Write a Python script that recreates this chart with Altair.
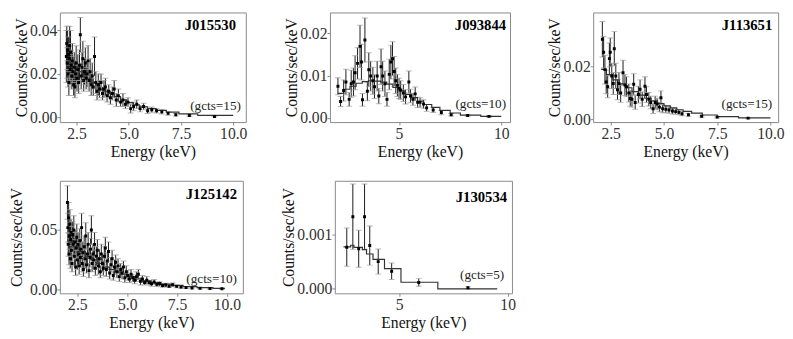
import altair as alt
import pandas as pd

FONT = "Liberation Serif"

# ---------------- Panel 1: J015530 ----------------
p1_energy = [2.01, 2.03, 2.05, 2.07, 2.09, 2.11, 2.13, 2.15, 2.17, 2.19, 2.21, 2.24, 2.27, 2.30, 2.33, 2.36,
             2.39, 2.42, 2.45, 2.48, 2.52, 2.56, 2.60, 2.64, 2.68, 2.72, 2.76, 2.80, 2.84, 2.88, 2.92, 2.96,
             3.00, 3.05, 3.10, 3.15, 3.20, 3.25, 3.30, 3.36, 3.42, 3.48, 3.54, 3.60, 3.67, 3.74, 3.81, 3.88,
             3.96, 4.04, 4.12, 4.21, 4.30, 4.40, 4.50, 4.61, 4.72, 4.84, 4.96, 5.09, 5.23, 5.38, 5.54, 5.71,
             5.90, 6.10, 6.33, 6.58, 6.88, 7.25, 7.90, 9.10]
p1_rate = [0.028, 0.034, 0.025, 0.031, 0.020, 0.029, 0.016, 0.027, 0.033, 0.022, 0.030, 0.024, 0.019, 0.026,
           0.021, 0.015, 0.023, 0.014, 0.020, 0.025, 0.018, 0.022, 0.016, 0.024, 0.038, 0.019, 0.023, 0.027,
           0.017, 0.021, 0.025, 0.018, 0.020, 0.026, 0.017, 0.021, 0.015, 0.019, 0.014, 0.028, 0.016, 0.012,
           0.015, 0.013, 0.016, 0.011, 0.013, 0.014, 0.010, 0.012, 0.009, 0.011, 0.013, 0.008, 0.010, 0.007,
           0.008, 0.006, 0.007, 0.004, 0.005, 0.006, 0.004, 0.005, 0.003, 0.0035, 0.003, 0.0025, 0.0018,
           0.0012, 0.0008, 0.0004]
p1_err = [0.012, 0.008, 0.007, 0.009, 0.006, 0.008, 0.006, 0.007, 0.009, 0.007, 0.010, 0.007, 0.006, 0.008,
          0.007, 0.005, 0.007, 0.005, 0.006, 0.008, 0.006, 0.007, 0.005, 0.007, 0.008, 0.006, 0.007, 0.008,
          0.005, 0.006, 0.007, 0.005, 0.006, 0.007, 0.005, 0.006, 0.005, 0.006, 0.004, 0.009, 0.005, 0.004,
          0.005, 0.004, 0.004, 0.003, 0.004, 0.004, 0.003, 0.003, 0.003, 0.003, 0.004, 0.003, 0.003, 0.002,
          0.003, 0.002, 0.002, 0.002, 0.002, 0.002, 0.0015, 0.0015, 0.0012, 0.0012, 0.001, 0.001, 0.0008,
          0.0006, 0.0004, 0.0002]
p1_model_e = [2.0, 2.2, 2.4, 2.6, 2.8, 3.0, 3.2, 3.4, 3.6, 3.8, 4.0, 4.3, 4.6, 4.9, 5.2, 5.5, 5.9, 6.3, 6.8, 7.4, 8.3, 10.0]
p1_model_r = [0.027, 0.025, 0.023, 0.021, 0.019, 0.018, 0.016, 0.015, 0.013, 0.012, 0.011, 0.0095, 0.008, 0.0068,
              0.0058, 0.0048, 0.004, 0.0032, 0.0024, 0.0016, 0.0009, 0.0009]

# ---------------- Panel 2: J093844 ----------------
p2_energy = [2.01, 2.14, 2.29, 2.40, 2.56, 2.66, 2.77, 2.85, 2.97, 3.09, 3.16, 3.21, 3.33, 3.45, 3.52,
             3.61, 3.72, 3.80, 3.93, 4.01, 4.12, 4.20, 4.31, 4.41, 4.52, 4.60, 4.68, 4.76, 4.84, 4.92,
             5.00, 5.08, 5.21, 5.32, 5.48, 5.56, 5.68, 5.79, 5.91, 6.03, 6.20, 6.35, 6.67, 7.07, 7.55,
             8.36, 9.40]
p2_rate = [0.0075, 0.0039, 0.0065, 0.0085, 0.0044, 0.0081, 0.0085, 0.0107, 0.0129, 0.0169, 0.0132, 0.0043, 0.0184,
           0.0063, 0.0114, 0.0099, 0.0088, 0.0074, 0.0099, 0.0052, 0.0121, 0.0099, 0.0081, 0.0044, 0.0103,
           0.0132, 0.0140, 0.0110, 0.0088, 0.0077, 0.0070, 0.0066, 0.0059, 0.0050, 0.0085, 0.0052, 0.0044,
           0.0057, 0.0037, 0.0037, 0.0033, 0.0024, 0.0019, 0.0013, 0.0008, 0.0006, 0.0004]
p2_err = [0.0020, 0.0012, 0.0025, 0.0030, 0.0016, 0.0032, 0.0033, 0.0040, 0.0037, 0.0050, 0.0042, 0.0015, 0.0052,
          0.0022, 0.0040, 0.0035, 0.0032, 0.0028, 0.0035, 0.0018, 0.0042, 0.0035, 0.0030, 0.0016, 0.0036,
          0.0040, 0.0040, 0.0035, 0.0030, 0.0026, 0.0024, 0.0022, 0.0020, 0.0017, 0.0026, 0.0016, 0.0014,
          0.0016, 0.0012, 0.0011, 0.0010, 0.0008, 0.0006, 0.0005, 0.0003, 0.0002, 0.0002]
p2_model_e = [2.0, 2.3, 2.6, 2.9, 3.2, 3.5, 3.8, 4.1, 4.4, 4.7, 5.0, 5.3, 5.6, 5.9, 6.2, 6.6, 7.0, 7.5, 8.0, 9.0, 10.0]
p2_model_r = [0.0058, 0.0068, 0.0075, 0.0082, 0.0086, 0.0088, 0.0087, 0.0085, 0.0080, 0.0072, 0.0064, 0.0056,
              0.0048, 0.0040, 0.0032, 0.0025, 0.0018, 0.0012, 0.0007, 0.0004, 0.0004]

# ---------------- Panel 3: J113651 ----------------
p3_energy = [2.11, 2.17, 2.23, 2.29, 2.36, 2.44, 2.48, 2.55, 2.62, 2.67, 2.74, 2.82, 2.89, 2.97, 3.08,
             3.17, 3.24, 3.35, 3.42, 3.50, 3.58, 3.65, 3.80, 3.88, 3.98, 4.11, 4.18, 4.29, 4.38, 4.49,
             4.59, 4.68, 4.79, 4.86, 4.94, 5.09, 5.24, 5.40, 5.55, 5.70, 5.85, 6.15, 6.77, 7.50, 8.95]
p3_rate = [0.0305, 0.0255, 0.0189, 0.0142, 0.0124, 0.0231, 0.0255, 0.0165, 0.0136, 0.0269, 0.0165, 0.0112, 0.0136,
           0.0100, 0.0177, 0.0130, 0.0124, 0.0100, 0.0079, 0.0076, 0.0133, 0.0064, 0.0094, 0.0114, 0.0076,
           0.0126, 0.0094, 0.0076, 0.0064, 0.0040, 0.0064, 0.0058, 0.0046, 0.0082, 0.0040, 0.0038, 0.0035,
           0.0031, 0.0029, 0.0026, 0.0021, 0.0017, 0.0011, 0.0008, 0.0004]
p3_err = [0.0068, 0.0060, 0.0055, 0.0045, 0.0042, 0.0060, 0.0055, 0.0048, 0.0042, 0.0065, 0.0048, 0.0038, 0.0042,
          0.0035, 0.0048, 0.0040, 0.0038, 0.0034, 0.0030, 0.0030, 0.0040, 0.0026, 0.0032, 0.0036, 0.0028,
          0.0036, 0.0030, 0.0026, 0.0024, 0.0018, 0.0024, 0.0022, 0.0018, 0.0026, 0.0015, 0.0013, 0.0012,
          0.0011, 0.0010, 0.0009, 0.0008, 0.0006, 0.0004, 0.0003, 0.0002]
p3_model_e = [2.05, 2.3, 2.6, 2.9, 3.2, 3.5, 3.8, 4.1, 4.4, 4.7, 5.0, 5.3, 5.6, 5.9, 6.3, 6.8, 7.5, 8.5, 10.0]
p3_model_r = [0.019, 0.017, 0.015, 0.0135, 0.012, 0.0105, 0.0092, 0.008, 0.007, 0.006, 0.0051, 0.0043, 0.0036,
              0.003, 0.0023, 0.0016, 0.001, 0.0005, 0.0005]

# ---------------- Panel 4: J125142 ----------------
p4_energy = [2.00, 2.02, 2.04, 2.06, 2.08, 2.10, 2.12, 2.14, 2.16, 2.18, 2.20, 2.23, 2.26, 2.29, 2.32, 2.35,
             2.38, 2.41, 2.44, 2.47, 2.50, 2.53, 2.56, 2.59, 2.62, 2.65, 2.68, 2.71, 2.74, 2.77, 2.80, 2.84,
             2.88, 2.92, 2.96, 3.00, 3.04, 3.08, 3.12, 3.16, 3.20, 3.24, 3.28, 3.32, 3.36, 3.40, 3.45, 3.50,
             3.55, 3.60, 3.65, 3.70, 3.75, 3.80, 3.85, 3.90, 3.95, 4.00, 4.06, 4.12, 4.18, 4.24, 4.30, 4.36,
             4.42, 4.48, 4.54, 4.60, 4.67, 4.74, 4.81, 4.88, 4.95, 5.03, 5.11, 5.19, 5.28, 5.37, 5.46, 5.56,
             5.66, 5.76, 5.87, 5.98, 6.10, 6.22, 6.35, 6.48, 6.62, 6.77, 6.93, 7.10, 7.28, 7.48, 7.70, 7.95,
             8.25, 8.65, 9.15, 9.75]
p4_rate = [0.073, 0.052, 0.038, 0.060, 0.030, 0.045, 0.055, 0.026, 0.042, 0.048, 0.033, 0.022, 0.046, 0.038,
           0.050, 0.028, 0.040, 0.019, 0.035, 0.044, 0.025, 0.038, 0.030, 0.020, 0.041, 0.027, 0.034, 0.052,
           0.022, 0.031, 0.017, 0.036, 0.026, 0.045, 0.021, 0.030, 0.038, 0.016, 0.027, 0.034, 0.050, 0.022,
           0.030, 0.025, 0.038, 0.018, 0.028, 0.033, 0.020, 0.026, 0.015, 0.030, 0.022, 0.018, 0.028, 0.035,
           0.017, 0.024, 0.032, 0.014, 0.021, 0.026, 0.012, 0.019, 0.023, 0.015, 0.020, 0.011, 0.017, 0.014,
           0.019, 0.010, 0.015, 0.012, 0.009, 0.013, 0.010, 0.008, 0.011, 0.013, 0.007, 0.009, 0.006, 0.008,
           0.006, 0.005, 0.0065, 0.0045, 0.005, 0.0035, 0.004, 0.003, 0.0042, 0.0028, 0.0022, 0.0018, 0.0015,
           0.0012, 0.001, 0.0008]
p4_err = [0.014, 0.012, 0.010, 0.013, 0.009, 0.011, 0.012, 0.008, 0.011, 0.011, 0.009, 0.007, 0.011, 0.010,
          0.012, 0.008, 0.010, 0.007, 0.009, 0.011, 0.008, 0.010, 0.009, 0.007, 0.010, 0.008, 0.009, 0.012,
          0.007, 0.009, 0.006, 0.009, 0.008, 0.011, 0.007, 0.008, 0.010, 0.006, 0.008, 0.009, 0.012, 0.007,
          0.008, 0.008, 0.010, 0.006, 0.008, 0.009, 0.007, 0.008, 0.005, 0.008, 0.007, 0.006, 0.008, 0.009,
          0.006, 0.007, 0.008, 0.005, 0.006, 0.007, 0.004, 0.006, 0.006, 0.005, 0.006, 0.004, 0.005, 0.005,
          0.005, 0.004, 0.005, 0.004, 0.003, 0.004, 0.003, 0.003, 0.004, 0.004, 0.003, 0.003, 0.002, 0.003,
          0.002, 0.002, 0.002, 0.0018, 0.0018, 0.0015, 0.0015, 0.0012, 0.0015, 0.0012, 0.001, 0.0008, 0.0007,
          0.0006, 0.0005, 0.0004]
p4_model_e = [2.0, 2.3, 2.6, 2.9, 3.2, 3.5, 3.8, 4.1, 4.4, 4.7, 5.0, 5.4, 5.8, 6.2, 6.7, 7.2, 7.8, 8.5, 9.3, 9.9]
p4_model_r = [0.040, 0.036, 0.032, 0.028, 0.025, 0.022, 0.019, 0.017, 0.015, 0.013, 0.011, 0.009, 0.0075, 0.006,
              0.0047, 0.0036, 0.0026, 0.0018, 0.0012, 0.0012]

# ---------------- Panel 5: J130534 ----------------
p5_energy = [2.58, 2.86, 3.13, 3.40, 3.64, 4.03, 4.65, 5.90, 8.17]
p5_rate = [0.000765, 0.001325, 0.000735, 0.001325, 0.000795, 0.0005, 0.000323, 0.000117, 0.00002]
p5_err = [0.00035, 0.0006, 0.00034, 0.0006, 0.00036, 0.00023, 0.00015, 0.00007, 0.00002]
p5_model_e = [2.43, 2.76, 2.91, 3.30, 3.49, 3.79, 4.32, 5.08, 6.78, 9.52]
p5_model_r = [0.00077, 0.0008, 0.00076, 0.00072, 0.00064, 0.00054, 0.00037, 0.00012, 0.0, 0.0]


def axis(title, values, fmt, tpad, lpad=1):
    return alt.Axis(title=title, values=values, format=fmt, grid=False, domain=False,
                    tickColor="#888888", tickSize=3, tickWidth=1,
                    labelFont=FONT, labelFontSize=16, labelColor="#333333", labelPadding=lpad,
                    titleFont=FONT, titleFontSize=16, titleFontWeight="normal", titleColor="#111111",
                    titlePadding=tpad)


def panel(energy, rate, err, model_e, model_r, name, gcts, xdom, ydom, xticks, xfmt, yticks, yfmt,
          w, h, name_dx, gcts_dx, name_y, gcts_y, ypad=0):
    pts = pd.DataFrame({"e": energy, "r": rate,
                        "lo": [r - s for r, s in zip(rate, err)],
                        "hi": [r + s for r, s in zip(rate, err)]})
    mod = pd.DataFrame({"e": model_e, "r": model_r})
    xs = alt.Scale(domain=xdom, nice=False, zero=False)
    ys = alt.Scale(domain=ydom, nice=False, zero=False)
    X = alt.X("e:Q", scale=xs, axis=axis("Energy (keV)", xticks, xfmt, 2))
    Y = alt.Y("r:Q", scale=ys, axis=axis("Counts/sec/keV", yticks, yfmt, ypad, 0))
    base = alt.Chart(pts)
    bars = base.mark_rule(color="#1a1a1a", strokeWidth=1, clip=True).encode(
        x=X, y=alt.Y("lo:Q", scale=ys), y2="hi:Q")
    cap_lo = base.mark_tick(orient="horizontal", size=6, thickness=1, color="#999999", clip=True).encode(
        x=alt.X("e:Q", scale=xs), y=alt.Y("lo:Q", scale=ys))
    cap_hi = base.mark_tick(orient="horizontal", size=6, thickness=1, color="#999999", clip=True).encode(
        x=alt.X("e:Q", scale=xs), y=alt.Y("hi:Q", scale=ys))
    line = alt.Chart(mod).mark_line(interpolate="step-after", color="#333333", strokeWidth=1.2,
                                    clip=True).encode(x=alt.X("e:Q", scale=xs), y=alt.Y("r:Q", scale=ys))
    dots = base.mark_square(size=9, color="#000000", opacity=1, clip=True).encode(
        x=alt.X("e:Q", scale=xs), y=Y)
    lab = alt.Chart(pd.DataFrame({"t": [name]})).mark_text(
        font=FONT, fontSize=15, fontWeight="bold", align="right", baseline="alphabetic",
        color="#000000").encode(x=alt.value(w - name_dx), y=alt.value(name_y), text="t:N")
    gl = alt.Chart(pd.DataFrame({"t": [gcts]})).mark_text(
        font=FONT, fontSize=13.5, align="right", baseline="alphabetic",
        color="#222222").encode(x=alt.value(w - gcts_dx), y=alt.value(gcts_y), text="t:N")
    return alt.layer(bars, cap_lo, cap_hi, line, dots, lab, gl).properties(width=w, height=h)


p1 = panel(p1_energy, p1_rate, p1_err, p1_model_e, p1_model_r, "J015530", "(gcts=15)",
           [1.7, 10.6], [-0.0022, 0.0483], [2.5, 5.0, 7.5, 10.0], ".1f", [0, 0.02, 0.04], ".2f",
           190, 112, 10, 5, 18, 100)
p2 = panel(p2_energy, p2_rate, p2_err, p2_model_e, p2_model_r, "J093844", "(gcts=10)",
           [1.62, 10.43], [-0.00095, 0.0249], [5, 10], "d", [0, 0.01, 0.02], ".2f",
           184, 112, 4, 4, 18, 98)
p3 = panel(p3_energy, p3_rate, p3_err, p3_model_e, p3_model_r, "J113651", "(gcts=15)",
           [1.68, 10.36], [-0.0011, 0.0407], [2.5, 5.0, 7.5, 10.0], ".1f", [0, 0.02], ".2f",
           189, 112, 6, 6, 18, 98)
p4 = panel(p4_energy, p4_rate, p4_err, p4_model_e, p4_model_r, "J125142", "(gcts=10)",
           [1.62, 10.8], [-0.003, 0.0912], [2.5, 5.0, 7.5, 10.0], ".1f", [0, 0.05], ".2f",
           187, 115, 6, 6, 19, 104, ypad=5)
p5 = panel(p5_energy, p5_rate, p5_err, p5_model_e, p5_model_r, "J130534", "(gcts=5)",
           [2.03, 10.2], [-0.000083, 0.001984], [5, 10], "d", [0, 0.001], ".3f",
           181, 115, 5, 8, 22, 100)

top = alt.hconcat(p1, p2, p3, spacing=36)
bottom = alt.hconcat(p4, p5, spacing=37)
chart = alt.vconcat(top, bottom, spacing=20).properties(
    padding={"left": 0, "top": 0, "right": 0, "bottom": 0}
).configure(font=FONT).configure_view(stroke="#888888", strokeWidth=1)

chart.save("out.html", embed_options={"renderer": "svg", "actions": False})
